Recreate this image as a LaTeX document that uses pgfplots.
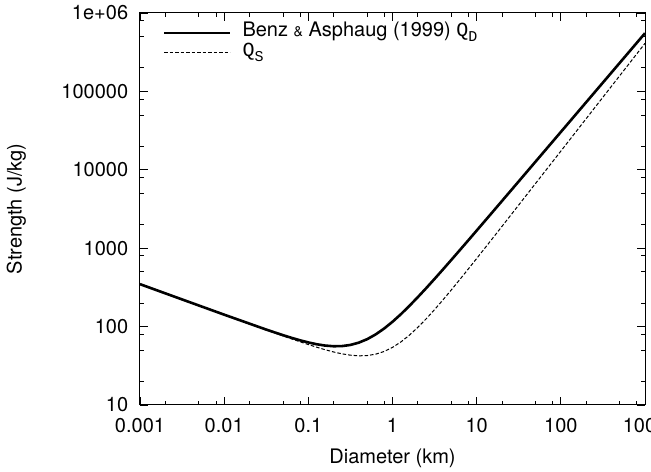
\documentclass[border=0pt]{standalone}
\usepackage{fontspec}
\setmainfont{TeX Gyre Heros}
\newfontfamily\mono{Liberation Mono}
\usepackage{pgfplots}
\usepackage{pgfplotstable}
\pgfplotsset{compat=1.18}

% diameter (km), Q_D (J/kg), Q_S (J/kg)
\pgfplotstableread{
D        QD       QS
0.001    347.9    347.9
0.003162 222.1    222.0
0.01     142.0    141.8
0.03162  91.62    90.71
0.03981  84.27    83.06
0.05012  77.71    76.10
0.06310  71.94    69.81
0.07943  66.96    64.14
0.1      62.81    59.07
0.1259   59.54    54.58
0.1585   57.27    50.71
0.1995   56.16    47.49
0.2512   56.42    44.94
0.3162   58.36    43.19
0.3981   62.44    42.38
0.5012   69.20    42.71
0.6310   79.49    44.50
0.7943   94.33    48.15
1.0      115.2    54.29
1.259    144.0    63.74
1.585    183.5    77.62
1.995    236.9    97.51
2.512    309.0    125.6
3.162    406.1    164.8
3.981    536.4    219.3
5.012    711.3    294.8
6.310    945.3    398.8
7.943    1258     542.1
10.0     1678     739.2
12.59    2239     1010
15.85    2989     1382
19.95    3991     1893
25.12    5332     2596
31.62    7123     3559
100      30364    17304
316.2    129500   84260
1000     552500   410300
}\strength

\begin{document}
\fontsize{20bp}{24bp}\selectfont
\begin{tikzpicture}
\begin{axis}[
  scale only axis, width=505bp, height=392bp,
  xmode=log, ymode=log,
  xmin=0.001, xmax=1000, ymin=10, ymax=1e6,
  xtick={0.001,0.01,0.1,1,10,100,1000},
  xticklabels={0.001,0.01,0.1,1,10,100,1000},
  ytick={10,100,1000,10000,100000,1000000},
  yticklabels={10,100,1000,10000,100000,1e+06},
  minor xtick={0.002,0.005,0.008,0.02,0.05,0.08,0.2,0.5,0.8,2,5,8,20,50,80,200,500,800},
  minor ytick={20,50,80,200,500,800,2000,5000,8000,2e4,5e4,8e4,2e5,5e5,8e5},
  tick align=inside,
  major tick length=8bp, minor tick length=4bp,
  every tick/.style={black, line width=0.8bp},
  axis line style={line width=1bp},
  /pgf/number format/assume math mode=true,
  xticklabel style={font=\fontsize{20bp}{24bp}\selectfont, yshift=-6bp},
  yticklabel style={font=\fontsize{20bp}{24bp}\selectfont, xshift=-5bp},
  xlabel={Diameter (km)},
  ylabel={Strength (J/kg)},
  every axis x label/.style={at={(axis description cs:0.5,-0.135)}, anchor=center},
  every axis y label/.style={at={(axis description cs:-0.245,0.5)}, anchor=center, rotate=90},
  legend style={at={(axis description cs:0.045,0.975)}, anchor=north west,
    draw=none, fill=none, inner sep=0pt, row sep=0bp, column sep=0bp,
    nodes={inner sep=1bp, text height=13bp, text depth=5bp},
    font=\fontsize{20bp}{24bp}\selectfont},
  legend cell align=left,
  legend image code/.code={\draw[#1] (0bp,0bp) -- (66bp,0bp);},
]
\coordinate (sw) at (rel axis cs:0,0);
\coordinate (ne) at (rel axis cs:1,1);
\addplot[black, line width=2.6bp] table[x=D, y=QD] {\strength};
\addlegendentry{\hspace{10bp}Benz {\fontsize{14bp}{16bp}\selectfont\&} Asphaug (1999) {\mono Q\raisebox{-5bp}{\fontsize{15bp}{15bp}\selectfont D}}}
\addplot[black, line width=1bp, dash pattern=on 3.5bp off 2bp] table[x=D, y=QS] {\strength};
\addlegendentry{\hspace{10bp}{\mono Q\raisebox{-5bp}{\fontsize{15bp}{15bp}\selectfont S}}}
\end{axis}
\pgfresetboundingbox
\path ([shift={(-140bp,-67bp)}]sw) rectangle ([shift={(6bp,13bp)}]ne);
\end{tikzpicture}
\end{document}
